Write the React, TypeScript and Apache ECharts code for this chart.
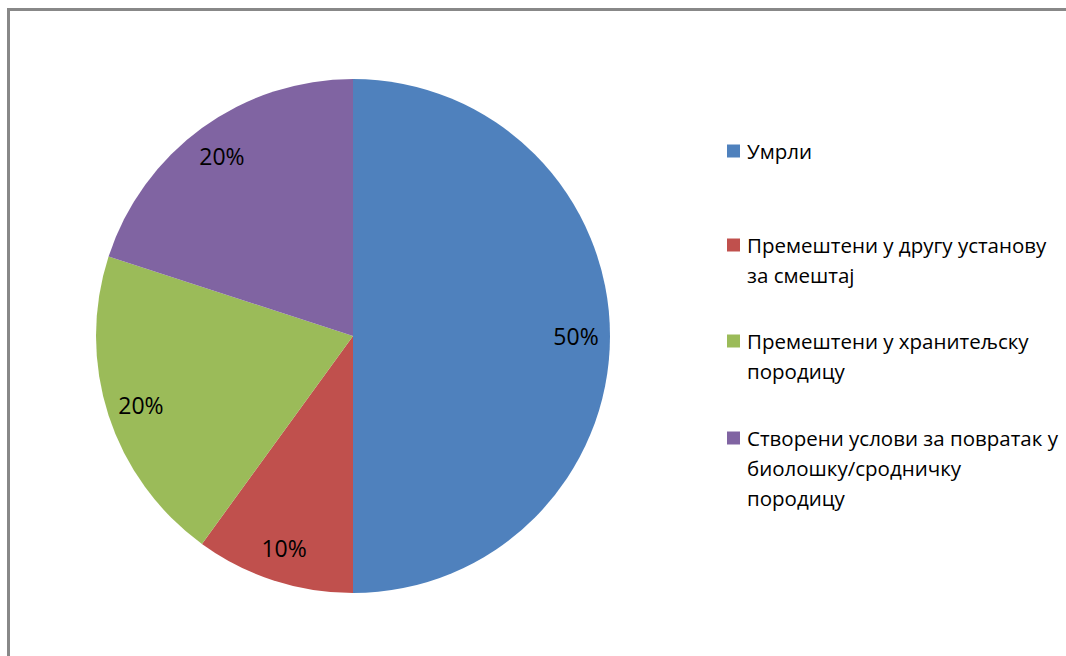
import React, { useEffect, useRef } from "react";
import * as echarts from "echarts";

// ---- data ----
const categories: string[] = [
  "Умрли",
  "Премештени у другу установу за смештај",
  "Премештени у хранитељску породицу",
  "Створени услови за повратак у биолошку/сродничку породицу",
];
const values: number[] = [50, 10, 20, 20];
const legendLines: string[][] = [
  ["Умрли"],
  ["Премештени у другу установу", "за смештај"],
  ["Премештени у хранитељску", "породицу"],
  ["Створени услови за повратак у", "биолошку/сродничку", "породицу"],
];

// ---- styles ----
const colors = ["#4F81BD", "#C0504D", "#9BBB59", "#8064A2"];
const FONT = "'Open Sans', sans-serif";
const LINE_H = 30;
const legendFirstLineY = [151, 245, 341, 438];

export default function App() {
  const ref = useRef<HTMLDivElement>(null);
  useEffect(() => {
    if (!ref.current) return;
    const chart = echarts.init(ref.current, null, { renderer: "svg" });
    const data = categories.map((name, i) => ({ name, value: values[i] }));

    const legends = categories.map((name, i) => {
      const n = legendLines[i].length;
      return {
        data: [name],
        orient: "vertical",
        left: 727,
        top: legendFirstLineY[i] - ((2 * n - 1) * LINE_H) / 2,
        padding: 0,
        itemGap: 0,
        itemWidth: 13,
        itemHeight: 13,
        icon: "rect",
        selectedMode: false,
        // leading blank lines keep the marker level with the first text line
        formatter: () => "\n".repeat(n - 1) + legendLines[i].join("\n"),
        textStyle: {
          fontFamily: FONT,
          fontSize: 20.5,
          lineHeight: LINE_H,
          color: "#000",
          padding: [0, 0, 0, 2],
        },
      };
    });

    chart.setOption({
      animation: false,
      color: colors,
      graphic: [
        { type: "rect", shape: { x: 7, y: 8, width: 1059, height: 3 }, style: { fill: "#888888" } },
        { type: "rect", shape: { x: 7, y: 8, width: 3, height: 648 }, style: { fill: "#888888" } },
      ],
      legend: legends,
      series: [
        {
          type: "pie",
          center: [353, 336],
          radius: [0, 257],
          startAngle: 90,
          clockwise: true,
          label: { show: false },
          labelLine: { show: false },
          emphasis: { disabled: true },
          data,
        },
        {
          type: "pie",
          center: [353, 336],
          radius: [183, 257],
          startAngle: 90,
          clockwise: true,
          silent: true,
          legendHoverLink: false,
          itemStyle: { color: "transparent" },
          label: {
            show: true,
            position: "inside",
            fontFamily: FONT,
            fontSize: 23,
            color: "#000",
            formatter: (p: any) => `${Math.round(p.percent)}%`,
          },
          labelLine: { show: false },
          emphasis: { disabled: true },
          data,
        },
      ],
    });
    return () => chart.dispose();
  }, []);
  return (
    <div
      ref={ref}
      style={{ position: "absolute", left: 0, top: 0, width: 1066, height: 656, background: "#fff" }}
    />
  );
}
